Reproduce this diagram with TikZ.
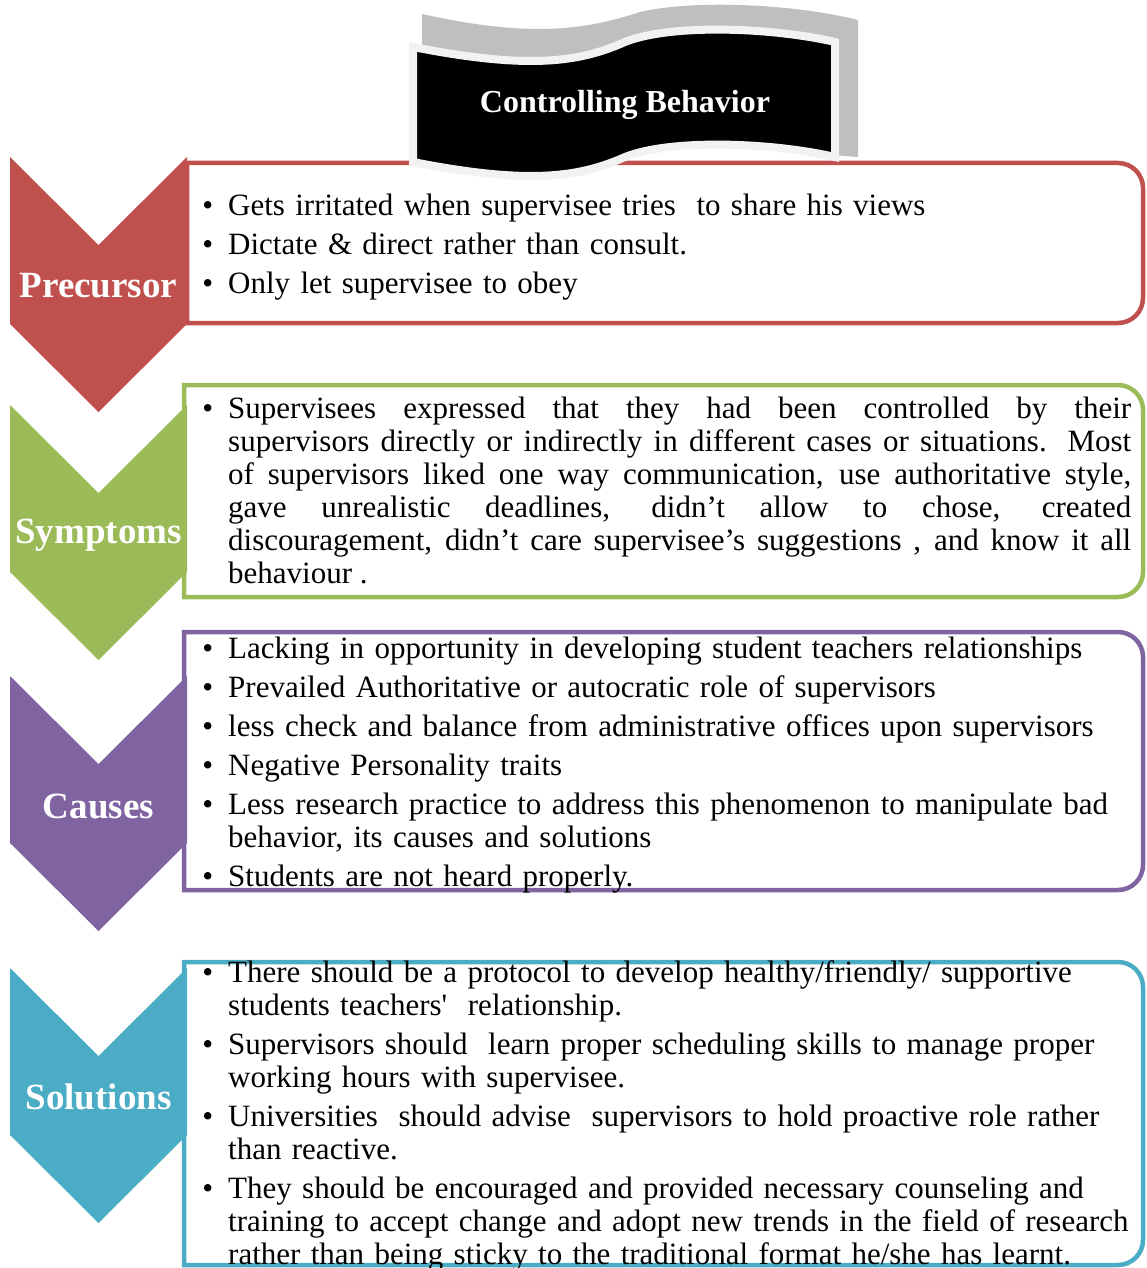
\documentclass[tikz,border=0pt]{standalone}
\usepackage{fontspec}
\setmainfont{Liberation Serif}
\usetikzlibrary{positioning}
\definecolor{precred}{HTML}{C0504D}
\definecolor{symgreen}{HTML}{9BBB59}
\definecolor{causepurple}{HTML}{8064A2}
\definecolor{solblue}{HTML}{4BACC6}
\definecolor{bannergray}{HTML}{BFBFBF}
\definecolor{bannerrim}{HTML}{F2F2F2}
\newenvironment{stagelist}{\begin{list}{\textbullet}{%
    \setlength{\leftmargin}{26pt}\setlength{\labelwidth}{11pt}%
    \setlength{\labelsep}{15pt}\setlength{\itemindent}{0pt}%
    \setlength{\itemsep}{6pt}\setlength{\parsep}{0pt}%
    \setlength{\topsep}{0pt}\setlength{\partopsep}{0pt}}}{\end{list}}
\tikzset{
    chevron/.style={
        fill=#1, draw=none
    },
    stagebox/.style={
        draw=#1, line width=4.5pt, fill=white
    },
    stagelab/.style={
        font=\fontsize{37}{40}\selectfont\bfseries, text=white, inner sep=0pt
    },
    itemtext/.style={
        font=\fontsize{31}{33}\selectfont, text width=940pt, align=left,
        anchor=north west, inner sep=0pt
    },
    banner/.style={
        fill=black, draw=bannerrim, line width=8pt
    },
}

\begin{document}
\begin{tikzpicture}[x=1pt, y=-1pt]
    \useasboundingbox (0,0) rectangle (1146,1268);

    % framed lists
    \draw[stagebox=precred] (187,163) -- (1118,163) arc[start angle=-90, end angle=0, radius=25] -- (1143,298) arc[start angle=0, end angle=90, radius=25] -- (187,323) -- cycle;
    \draw[stagebox=symgreen] (184,385) -- (1118,385) arc[start angle=-90, end angle=0, radius=25] -- (1143,572) arc[start angle=0, end angle=90, radius=25] -- (184,597) -- cycle;
    \draw[stagebox=causepurple] (184,632) -- (1118,632) arc[start angle=-90, end angle=0, radius=25] -- (1143,865) arc[start angle=0, end angle=90, radius=25] -- (184,890) -- cycle;
    \draw[stagebox=solblue] (184,962) -- (1118,962) arc[start angle=-90, end angle=0, radius=25] -- (1143,1240) arc[start angle=0, end angle=90, radius=25] -- (184,1265) -- cycle;

    % title banner
    \fill[bannergray] (422,14) .. controls (530,38) and (585,30) .. (640,12) .. controls (690,0) and (790,3) .. (858,20) -- (858,157) -- (640,140) -- (422,140) -- cycle;
    \filldraw[banner] (413,47) .. controls (530,70) and (580,62) .. (625,42) .. controls (670,24) and (770,27) .. (835,42) -- (835,157) .. controls (770,142) and (670,139) .. (625,157) .. controls (580,177) and (530,185) .. (413,162) -- cycle;
    \node[font=\fontsize{32}{34}\selectfont\bfseries, text=white] (title) at (625,105) {Controlling Behavior};

    % chevrons
    \fill[chevron=precred] (10,157) -- (98.5,245) -- (187,157) -- (187,324) -- (98.5,412) -- (10,324) -- cycle;
    \fill[chevron=symgreen] (10,405) -- (98.5,493) -- (187,405) -- (187,572) -- (98.5,660) -- (10,572) -- cycle;
    \fill[chevron=causepurple] (10,676) -- (98.5,764) -- (187,676) -- (187,843) -- (98.5,931) -- (10,843) -- cycle;
    \fill[chevron=solblue] (10,968) -- (98.5,1056) -- (187,968) -- (187,1135) -- (98.5,1223) -- (10,1135) -- cycle;

    \node[stagelab] (precursor) at (98.5,286) {Precursor};
    \node[stagelab] (symptoms) at (98.5,535) {Symptoms};
    \node[stagelab] (causes) at (98.5,806) {Causes};
    \node[stagelab] (solutions) at (98.5,1097) {Solutions};

    % bullet lists
    \node[itemtext] (precursorlist) at (202,182) {\begin{stagelist}
        \item Gets irritated when supervisee tries\ \ to share his views
        \item Dictate \& direct rather than consult.
        \item Only let supervisee to obey
    \end{stagelist}};
    \node[itemtext, text width=929pt, align=justify] (symptomlist) at (202,385) {\begin{stagelist}
        \item Supervisees expressed that they had been controlled by their\linebreak supervisors directly or indirectly in different cases or situations. Most\linebreak of supervisors liked one way communication, use authoritative style,\linebreak gave unrealistic deadlines, didn’t allow to chose, created\linebreak discouragement, didn’t care supervisee’s suggestions , and know it all\linebreak behaviour .
    \end{stagelist}};
    \node[itemtext] (causelist) at (202,625) {\begin{stagelist}
        \item Lacking in opportunity in developing student teachers relationships
        \item Prevailed Authoritative or autocratic role of supervisors
        \item less check and balance from administrative offices upon supervisors
        \item Negative Personality traits
        \item Less research practice to address this phenomenon to manipulate bad\\behavior, its causes and solutions
        \item Students are not heard properly.
    \end{stagelist}};
    \node[itemtext] (solutionlist) at (202,949) {\begin{stagelist}
        \item There should be a protocol to develop healthy/friendly/ supportive\\students teachers\textquotesingle\ \ relationship.
        \item Supervisors should\ \ learn proper scheduling skills to manage proper\\working hours with supervisee.
        \item Universities\ \ should advise\ \ supervisors to hold proactive role rather\\than reactive.
        \item They should be encouraged and provided necessary counseling and\\training to accept change and adopt new trends in the field of research\\rather than being sticky to the traditional format he/she has learnt.
    \end{stagelist}};
\end{tikzpicture}
\end{document}
